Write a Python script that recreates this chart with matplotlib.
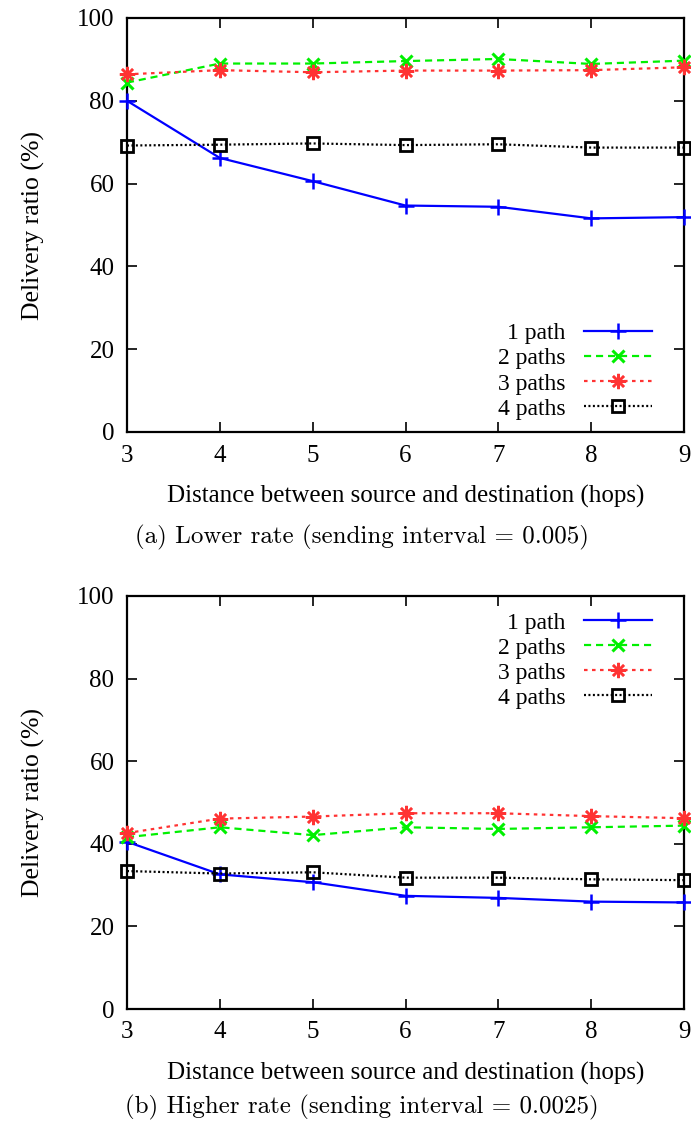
import matplotlib
matplotlib.use("Agg")
import matplotlib.pyplot as plt

hops = [3, 4, 5, 6, 7, 8, 9]
labels = ["1 path", "2 paths", "3 paths", "4 paths"]

low_1 = [80.0, 66.2, 60.6, 54.7, 54.4, 51.6, 51.9]
low_2 = [84.4, 89.0, 89.0, 89.6, 90.1, 88.9, 89.7]
low_3 = [86.4, 87.4, 86.9, 87.3, 87.3, 87.4, 88.1]
low_4 = [69.2, 69.4, 69.7, 69.3, 69.5, 68.7, 68.7]

high_1 = [40.5, 32.6, 30.7, 27.4, 26.9, 26.0, 25.8]
high_2 = [41.6, 44.0, 42.1, 44.0, 43.6, 44.0, 44.4]
high_3 = [42.6, 46.1, 46.6, 47.4, 47.4, 46.7, 46.2]
high_4 = [33.4, 32.8, 33.1, 31.8, 31.8, 31.4, 31.2]

captions = ["(a) Lower rate (sending interval = 0.005)",
            "(b) Higher rate (sending interval = 0.0025)"]
xlabel = "Distance between source and destination (hops)"
ylabel = "Delivery ratio (%)"
yticks = [0, 20, 40, 60, 80, 100]

W, H = 691, 1127
fig = plt.figure(figsize=(W / 100, H / 100), dpi=100)

serif = ["Liberation Serif", "DejaVu Serif"]

styles = [
    dict(color="#0000ff", ls="-", marker="+", ms=11, mew=1.8),
    dict(color="#00f000", ls=(0, (3.2, 2.2)), marker="x", ms=9, mew=2.2),
    dict(color="#ff3333", ls=(0, (1.6, 2.0)), marker=(8, 2, 0), ms=11, mew=1.8),
    dict(color="#000000", ls=(0, (0.9, 1.1)), marker="s", ms=9, mew=2.0, mfc="none"),
]


def make_axes(top_px, bot_px):
    left, right = 127, 684
    return fig.add_axes([left / W, (H - bot_px) / H, (right - left) / W, (bot_px - top_px) / H])


def draw(ax, series, legend_anchor):
    for vals, lab, st in zip(series, labels, styles):
        ax.plot(hops, vals, label=lab, lw=1.6, clip_on=False, zorder=3, **st)
    ax.set_xlim(3, 9)
    ax.set_ylim(0, 100)
    ax.set_xticks(hops)
    ax.set_yticks(yticks)
    ax.tick_params(direction="in", length=7, width=1.2, top=True, right=True,
                   labelsize=18, pad=9)
    for lbl in ax.get_xticklabels() + ax.get_yticklabels():
        lbl.set_family(serif)
    for s in ax.spines.values():
        s.set_linewidth(1.6)
    ax.set_xlabel(xlabel, fontsize=18, family=serif)
    ax.set_ylabel(ylabel, fontsize=18.5, family=serif)
    ax.xaxis.set_label_coords(0.5, -0.128)
    ax.yaxis.set_label_coords(-0.147, 0.5)
    leg = ax.legend(loc="lower right", bbox_to_anchor=legend_anchor, frameon=False,
                    markerfirst=False, handlelength=2.9, handletextpad=0.75,
                    labelspacing=0.15, borderpad=0, borderaxespad=0,
                    prop=dict(family=serif, size=17))
    return leg


ax1 = make_axes(18, 432)
draw(ax1, [low_1, low_2, low_3, low_4], (0.9425, 0.03))

ax2 = make_axes(596, 1009)
draw(ax2, [high_1, high_2, high_3, high_4], (0.9425, 0.727))

fig.text(362 / W, 1 - 537 / H, captions[0], ha="center", va="center",
         family=["cmr10", "DejaVu Serif"], fontsize=18)
fig.text(362 / W, 1 - 1107 / H, captions[1], ha="center", va="center",
         family=["cmr10", "DejaVu Serif"], fontsize=18)

fig.savefig("out.png", dpi=100)
